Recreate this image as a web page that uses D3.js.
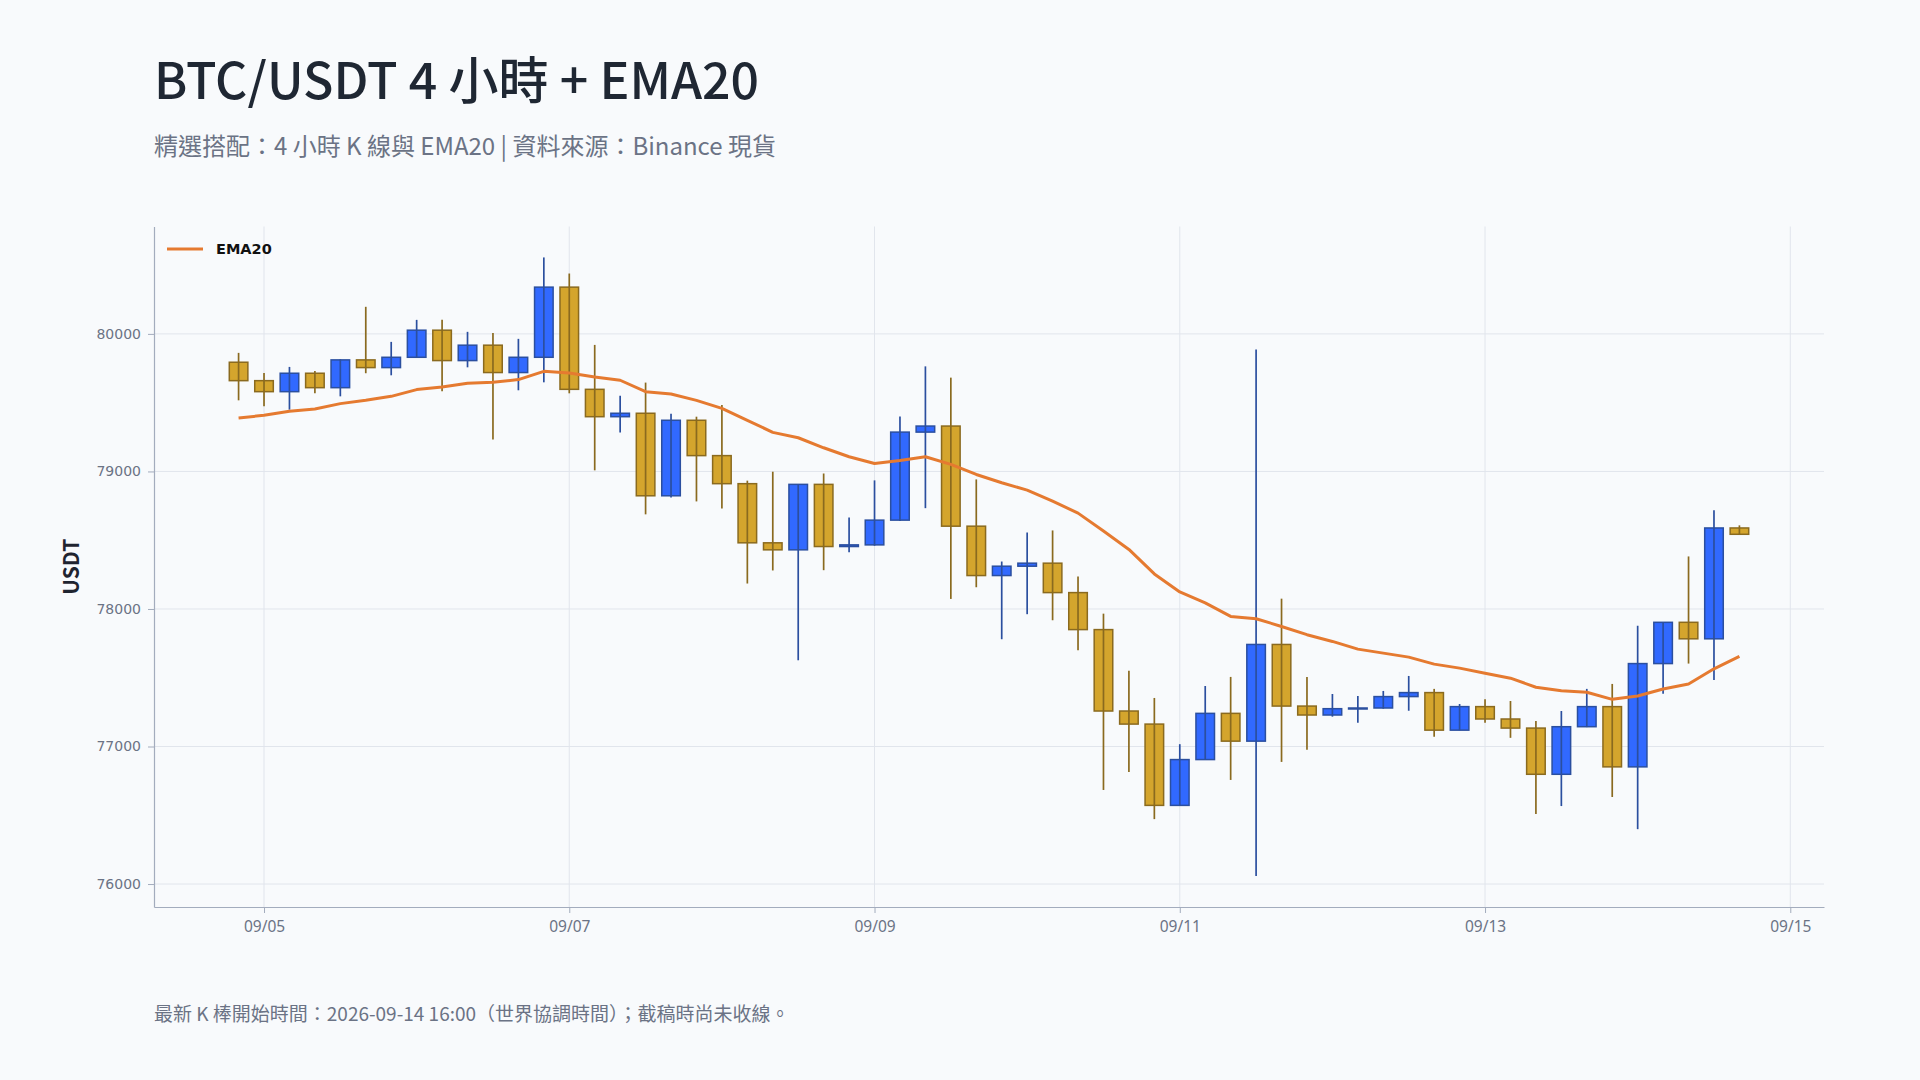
<!DOCTYPE html>
<html>
<head>
<meta charset="utf-8">
<script src="https://cdn.jsdelivr.net/npm/d3@7"></script>
<style>
  html, body { margin: 0; padding: 0; background: #f8fafc; }
  svg { display: block; }
</style>
</head>
<body>
<svg id="chart" width="1920" height="1080"></svg>
<script>
// ---- data (4h candles, UTC) ----
const times = [
  "2026-09-04T20:00Z","2026-09-05T00:00Z","2026-09-05T04:00Z","2026-09-05T08:00Z","2026-09-05T12:00Z","2026-09-05T16:00Z",
  "2026-09-05T20:00Z","2026-09-06T00:00Z","2026-09-06T04:00Z","2026-09-06T08:00Z","2026-09-06T12:00Z","2026-09-06T16:00Z",
  "2026-09-06T20:00Z","2026-09-07T00:00Z","2026-09-07T04:00Z","2026-09-07T08:00Z","2026-09-07T12:00Z","2026-09-07T16:00Z",
  "2026-09-07T20:00Z","2026-09-08T00:00Z","2026-09-08T04:00Z","2026-09-08T08:00Z","2026-09-08T12:00Z","2026-09-08T16:00Z",
  "2026-09-08T20:00Z","2026-09-09T00:00Z","2026-09-09T04:00Z","2026-09-09T08:00Z","2026-09-09T12:00Z","2026-09-09T16:00Z",
  "2026-09-09T20:00Z","2026-09-10T00:00Z","2026-09-10T04:00Z","2026-09-10T08:00Z","2026-09-10T12:00Z","2026-09-10T16:00Z",
  "2026-09-10T20:00Z","2026-09-11T00:00Z","2026-09-11T04:00Z","2026-09-11T08:00Z","2026-09-11T12:00Z","2026-09-11T16:00Z",
  "2026-09-11T20:00Z","2026-09-12T00:00Z","2026-09-12T04:00Z","2026-09-12T08:00Z","2026-09-12T12:00Z","2026-09-12T16:00Z",
  "2026-09-12T20:00Z","2026-09-13T00:00Z","2026-09-13T04:00Z","2026-09-13T08:00Z","2026-09-13T12:00Z","2026-09-13T16:00Z",
  "2026-09-13T20:00Z","2026-09-14T00:00Z","2026-09-14T04:00Z","2026-09-14T08:00Z","2026-09-14T12:00Z","2026-09-14T16:00Z"
];
const open = [
  79794,79660,79580,79714,79609,79811,79755,79830,80027,79806,79918,79719,
  79830,80340,79597,79398,79423,78823,79372,79115,78911,78481,78430,78906,
  78454,78466,78646,79286,79330,78602,78243,78311,78333,78119,77850,77258,
  77163,76572,76905,77241,77039,77742,77294,77229,77275,77280,77363,77392,
  77119,77290,77200,77134,76798,77144,77290,76852,77603,77903,77783,78589
];
const high = [
  79862,79716,79760,79731,79815,80197,79942,80102,80102,80015,80007,79964,
  80556,80439,79920,79551,79646,79420,79398,79483,78933,78998,78908,78985,
  78665,78935,79400,79764,79682,78942,78345,78556,78571,78236,77966,77550,
  77353,77017,77440,77506,79886,78075,77506,77382,77367,77404,77513,77419,
  77309,77343,77331,77185,77258,77419,77455,77878,77903,78382,78718,78608
];
const low = [
  79517,79474,79449,79568,79546,79714,79699,79825,79583,79757,79233,79590,
  79648,79568,79008,79284,78688,78811,78782,78731,78185,78280,77627,78282,
  78413,78460,78640,78733,78073,78158,77780,77962,77918,77700,76684,76815,
  76472,76572,76903,76757,76058,76888,76976,77217,77173,77275,77260,77071,
  77119,77173,77063,76509,76567,77141,76633,76399,77384,77603,77484,78543
];
const close = [
  79660,79580,79714,79609,79811,79755,79830,80027,79806,79918,79719,79830,
  80340,79597,79398,79423,78823,79372,79115,78911,78481,78430,78906,78454,
  78466,78646,79286,79330,78602,78243,78311,78333,78119,77850,77258,77163,
  76572,76905,77241,77039,77742,77294,77229,77275,77280,77363,77392,77119,
  77290,77200,77134,76798,77144,77290,76852,77603,77903,77783,78589,78543
];
const ema20 = [
  79389,79408,79437,79454,79493,79517,79546,79595,79614,79641,79648,79668,
  79728,79716,79687,79663,79580,79563,79517,79459,79372,79284,79245,79172,
  79107,79058,79080,79107,79051,78978,78918,78864,78784,78697,78567,78433,
  78255,78124,78044,77946,77929,77873,77813,77764,77708,77679,77650,77599,
  77570,77533,77497,77431,77405,77394,77343,77367,77418,77455,77565,77655
];
const xTickDates = ["2026-09-05","2026-09-07","2026-09-09","2026-09-11","2026-09-13","2026-09-15"];
const xTickLabels = ["09/05","09/07","09/09","09/11","09/13","09/15"];
const yTicks = [76000, 77000, 78000, 79000, 80000];

const titleText = "BTC/USDT 4 小時 + EMA20";
const subtitleText = "精選搭配：4 小時 K 線與 EMA20 | 資料來源：Binance 現貨";
const footText = "最新 K 棒開始時間：2026-09-14 16:00（世界協調時間）；截稿時尚未收線。";
const yAxisTitle = "USDT";
const legendLabel = "EMA20";

// ---- layout ----
const W = 1920, H = 1080;
const plot = { left: 154, right: 1824, top: 226.5, bottom: 907 };
const upFill = "#3169ff", upLine = "#2b4f9f";
const dnFill = "#d4a52d", dnLine = "#8a6a1f";
const emaColor = "#e57a30";
const gridColor = "#e1e5ec", axisColor = "#a3acbd";
const tickText = "#6b7385";
const cjk = "'Noto Sans CJK TC', 'Noto Sans', sans-serif";

const svg = d3.select("#chart");
svg.append("rect").attr("width", W).attr("height", H).attr("fill", "#f8fafc");

const rows = times.map((t, i) => ({
  t: new Date(t), o: open[i], h: high[i], l: low[i], c: close[i], e: ema20[i]
}));

const padMs = 13.3 * 3600 * 1000;
const x = d3.scaleUtc()
  .domain([new Date(+rows[0].t - padMs), new Date(+rows[rows.length - 1].t + padMs)])
  .range([plot.left, plot.right]);

const yMin = d3.min(low), yMax = d3.max(high), yPad = (yMax - yMin) * 0.05;
const y = d3.scaleLinear().domain([yMin - yPad, yMax + yPad]).range([plot.bottom, plot.top]);

const xTicks = xTickDates.map(d => new Date(d + "T00:00Z"));

// grid
const g = svg.append("g");
g.append("g").selectAll("line").data(yTicks).join("line")
  .attr("x1", plot.left).attr("x2", plot.right)
  .attr("y1", d => y(d)).attr("y2", d => y(d))
  .attr("stroke", gridColor).attr("stroke-width", 1);
g.append("g").selectAll("line").data(xTicks).join("line")
  .attr("x1", d => x(d)).attr("x2", d => x(d))
  .attr("y1", plot.top).attr("y2", plot.bottom)
  .attr("stroke", gridColor).attr("stroke-width", 1);

// axes
const xAxis = d3.axisBottom(x).tickValues(xTicks)
  .tickFormat((d, i) => xTickLabels[i]).tickSizeInner(6).tickSizeOuter(0).tickPadding(8);
const xg = svg.append("g").attr("transform", `translate(0,${plot.bottom})`).call(xAxis);
xg.select(".domain").attr("stroke", axisColor).attr("stroke-width", 1.2);
xg.selectAll(".tick line").attr("stroke", axisColor);
xg.selectAll(".tick text").attr("fill", tickText).attr("font-family", "'Noto Sans', sans-serif").attr("font-size", 15.5);

const yAxis = d3.axisLeft(y).tickValues(yTicks).tickFormat(d3.format("d"))
  .tickSizeInner(6).tickSizeOuter(0).tickPadding(7);
const yg = svg.append("g").attr("transform", `translate(${plot.left},0)`).call(yAxis);
yg.select(".domain").attr("stroke", axisColor).attr("stroke-width", 1.2);
yg.selectAll(".tick line").attr("stroke", axisColor);
yg.selectAll(".tick text").attr("fill", tickText).attr("font-family", "'DejaVu Sans', sans-serif").attr("font-size", 14);

// candles
const step = x(rows[1].t) - x(rows[0].t);
const bw = step * 0.73;
const cg = svg.append("g");
const candle = cg.selectAll("g").data(rows).join("g");
candle.append("line")
  .attr("x1", d => x(d.t)).attr("x2", d => x(d.t))
  .attr("y1", d => y(d.h)).attr("y2", d => y(d.l))
  .attr("stroke", d => d.c >= d.o ? upLine : dnLine).attr("stroke-width", 1.7);
candle.append("rect")
  .attr("x", d => x(d.t) - bw / 2).attr("width", bw)
  .attr("y", d => y(Math.max(d.o, d.c)))
  .attr("height", d => Math.max(1, Math.abs(y(d.o) - y(d.c))))
  .attr("fill", d => d.c >= d.o ? upFill : dnFill)
  .attr("stroke", d => d.c >= d.o ? upLine : dnLine).attr("stroke-width", 1.5);
candle.append("line")
  .attr("x1", d => x(d.t)).attr("x2", d => x(d.t))
  .attr("y1", d => y(Math.max(d.o, d.c))).attr("y2", d => y(Math.min(d.o, d.c)))
  .attr("stroke", d => d.c >= d.o ? upLine : dnLine).attr("stroke-width", 1.7);

// EMA line
svg.append("path").datum(rows)
  .attr("d", d3.line().x(d => x(d.t)).y(d => y(d.e)))
  .attr("fill", "none").attr("stroke", emaColor).attr("stroke-width", 3)
  .attr("stroke-linejoin", "round");

// legend
svg.append("line").attr("x1", 167).attr("x2", 203).attr("y1", 249).attr("y2", 249)
  .attr("stroke", emaColor).attr("stroke-width", 3);
svg.append("text").attr("x", 216).attr("y", 249).attr("dy", "0.35em")
  .attr("font-family", "'DejaVu Sans', sans-serif").attr("font-weight", "bold")
  .attr("font-size", 14.5).attr("fill", "#111").text(legendLabel);

// y-axis title
svg.append("text").attr("transform", `translate(79,${(plot.top + plot.bottom) / 2}) rotate(-90)`)
  .attr("text-anchor", "middle").attr("font-family", cjk).attr("font-weight", "bold")
  .attr("font-size", 21).attr("fill", "#1f2430").text(yAxisTitle);

// titles
svg.append("text").attr("x", 154).attr("y", 99)
  .attr("font-family", cjk).attr("font-weight", 500).attr("font-size", 50)
  .attr("fill", "#1f2733").text(titleText);
svg.append("text").attr("x", 154).attr("y", 155)
  .attr("font-family", cjk).attr("font-size", 24)
  .attr("fill", "#6b7385").text(subtitleText);
svg.append("text").attr("x", 154).attr("y", 1021)
  .attr("font-family", cjk).attr("font-size", 19)
  .attr("fill", "#6b7385").text(footText);
</script>
</body>
</html>
